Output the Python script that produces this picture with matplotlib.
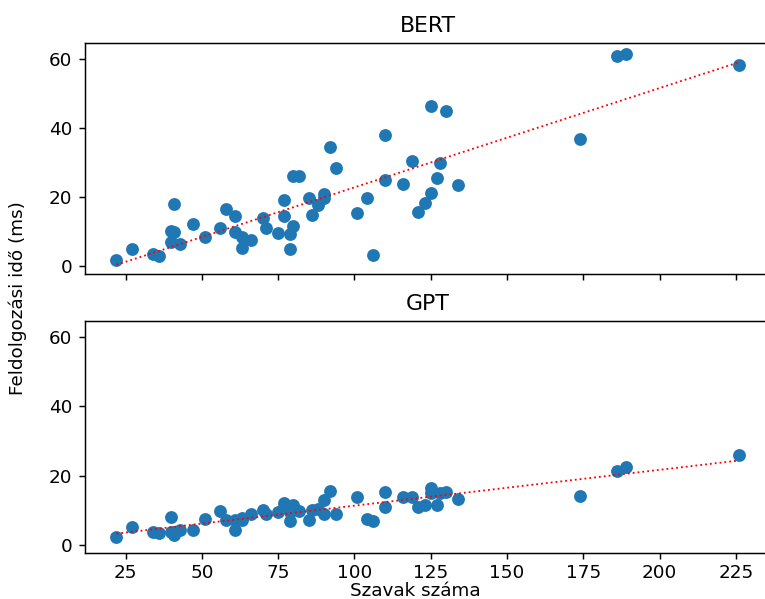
import matplotlib.pyplot as plt
import numpy as np

# word counts (same texts for both models)
words = [22, 27, 34, 36, 40, 40, 41, 41, 43, 47, 51, 56, 58, 61, 61, 63, 63, 66,
         70, 71, 75, 77, 77, 79, 79, 80, 80, 82, 85, 86, 88, 90, 90, 92, 94,
         101, 104, 106, 110, 110, 116, 119, 121, 123, 125, 125, 127, 128, 130,
         134, 174, 186, 189, 226]

bert_ms = [1.7, 4.8, 3.3, 2.8, 6.8, 10.2, 9.7, 18.0, 6.2, 12.2, 8.3, 11.0, 16.6,
           14.5, 9.8, 8.4, 5.2, 7.4, 13.9, 11.0, 9.6, 19.0, 14.4, 9.1, 4.8, 11.6,
           26.0, 26.0, 19.7, 14.8, 17.6, 20.8, 19.6, 34.5, 28.5, 15.3, 19.8, 3.1,
           37.9, 24.8, 23.8, 30.4, 15.7, 18.1, 46.3, 21.1, 25.6, 29.9, 45.0, 23.4,
           36.9, 61.0, 61.5, 58.3]

gpt_ms = [2.1, 5.2, 3.7, 3.4, 3.8, 8.0, 2.9, 3.6, 4.3, 4.3, 7.4, 9.6, 7.2, 7.0,
          4.1, 7.7, 7.2, 8.9, 9.9, 8.9, 9.5, 12.1, 10.8, 6.8, 9.5, 11.6, 10.4,
          9.8, 7.0, 10.1, 10.4, 13.0, 8.9, 15.6, 8.9, 13.7, 7.5, 6.8, 15.1, 10.9,
          13.7, 13.7, 10.9, 11.4, 16.4, 14.8, 11.4, 14.8, 15.1, 13.1, 14.2, 21.3,
          22.6, 25.8]

DPI = 132
W, H = 765, 599

fig = plt.figure(figsize=(W / DPI, H / DPI), dpi=DPI)
ax1 = fig.add_axes([85.3 / W, 1 - 274.3 / H, (770 - 85.3) / W, (274.3 - 43) / H])
ax2 = fig.add_axes([85.3 / W, 1 - 553.3 / H, (770 - 85.3) / W, (553.3 - 321) / H],
                   sharex=ax1, sharey=ax1)

x = np.array(words)
for ax, y, title in [(ax1, bert_ms, 'BERT'), (ax2, gpt_ms, 'GPT')]:
    ax.scatter(x, y, color='#1f77b4')
    # linear trend
    coef = np.polyfit(x, y, 1)
    xs = np.array([x.min(), x.max()])
    ax.plot(xs, np.polyval(coef, xs), 'r:', linewidth=1)
    ax.set_title(title)

ax1.tick_params(labelbottom=False)
ax2.tick_params(axis='x', pad=2.3)
ax1.set_xticks([25, 50, 75, 100, 125, 150, 175, 200, 225])
ax1.set_yticks([0, 20, 40, 60])
ax1.set_xlim(11.8, 236.2)
ax1.set_ylim(-2.5, 64.7)

fig.text(415.5 / W, 1 - 591.1 / H, 'Szavak száma', ha='center', va='center')
fig.text(18 / W, 1 - 298 / H, 'Feldolgozási idő (ms)', rotation=90,
         ha='center', va='center')

fig.savefig('out.png', dpi=DPI)
